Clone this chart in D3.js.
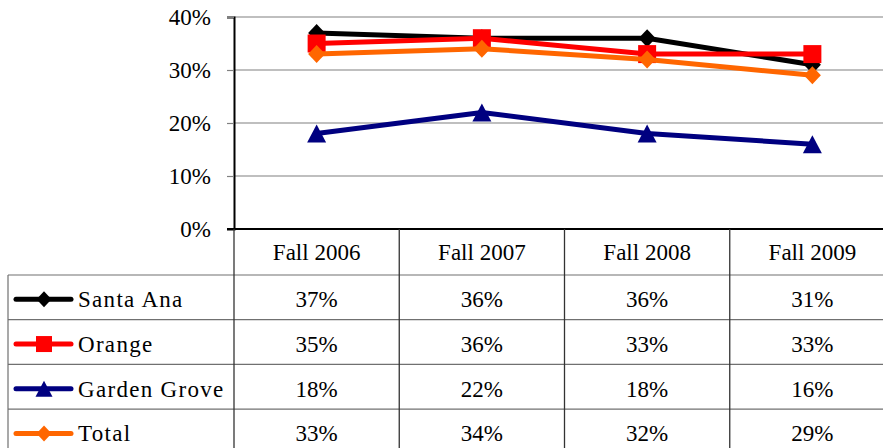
<!DOCTYPE html>
<html>
<head>
<meta charset="utf-8">
<title>Rates by district</title>
<script src="https://d3js.org/d3.v7.min.js"></script>
<style>
  body { margin: 0; background: #fff; }
  svg text { font-family: "Liberation Serif", "Tinos", "Times New Roman", "DejaVu Serif", serif !important; fill: #000; }
</style>
</head>
<body>
<div id="chart"></div>
<script>
// data
var terms = ["Fall 2006", "Fall 2007", "Fall 2008", "Fall 2009"];
var santaAna = [0.37, 0.36, 0.36, 0.31];
var orange = [0.35, 0.36, 0.33, 0.33];
var gardenGrove = [0.18, 0.22, 0.18, 0.16];
var total = [0.33, 0.34, 0.32, 0.29];
var yTicks = [0, 0.1, 0.2, 0.3, 0.4];

var series = [
  {name: "Santa Ana", values: santaAna, color: "#000000", marker: "diamond"},
  {name: "Orange", values: orange, color: "#ff0000", marker: "square"},
  {name: "Garden Grove", values: gardenGrove, color: "#000080", marker: "triangle"},
  {name: "Total", values: total, color: "#ff6600", marker: "diamond"}
];

var W = 883, H = 448;
var plotLeft = 234, plotRight = 895, plotTop = 17, plotBottom = 229;
var tableLeft = 8, headerBottom = 275, rowH = 44.7;

var svg = d3.select("#chart").append("svg")
  .attr("width", W).attr("height", H);

var x = d3.scaleBand().domain(terms).range([plotLeft, plotRight]);
var y = d3.scaleLinear().domain([0, 0.4]).range([plotBottom, plotTop]);
var fmt = d3.format(".0%");

// marker shapes
function markerPath(type, big) {
  var s = big ? 9 : 8;
  if (type === "diamond") return "M0," + (-s) + "L" + (s - 0.5) + ",0L0," + s + "L" + (-(s - 0.5)) + ",0Z";
  if (type === "square") return "M" + (-s) + "," + (-s) + "H" + s + "V" + s + "H" + (-s) + "Z";
  return "M0," + (-s) + "L" + (s + 0.5) + "," + s + "H" + (-(s + 0.5)) + "Z";
}

// gridlines
svg.append("g").selectAll("line")
  .data(yTicks.filter(function(d) { return d > 0; }))
  .join("line")
  .attr("x1", plotLeft).attr("x2", plotRight)
  .attr("y1", function(d) { return y(d); }).attr("y2", function(d) { return y(d); })
  .attr("stroke", "#808080").attr("stroke-width", 1.2);

// y axis
var yAxis = svg.append("g")
  .attr("transform", "translate(" + plotLeft + ",0)")
  .call(d3.axisLeft(y).tickValues(yTicks).tickFormat(fmt).tickSize(7).tickPadding(16));
yAxis.attr("font-family", null).attr("font-size", null);
yAxis.select(".domain").attr("stroke", "#000").attr("stroke-width", 2);
yAxis.selectAll(".tick line").attr("stroke", "#808080").attr("stroke-width", 1.2);
yAxis.selectAll(".tick text")
  .style("font-size", "23px").attr("fill", "#000");

// x axis line
svg.append("line")
  .attr("x1", plotLeft - 7).attr("x2", plotRight)
  .attr("y1", plotBottom).attr("y2", plotBottom)
  .attr("stroke", "#000").attr("stroke-width", 2.2);

// series lines and markers
var line = d3.line()
  .x(function(d, i) { return x(terms[i]) + x.bandwidth() / 2; })
  .y(function(d) { return y(d); });

series.forEach(function(s) {
  var g = svg.append("g");
  g.append("path")
    .attr("d", line(s.values))
    .attr("fill", "none")
    .attr("stroke", s.color)
    .attr("stroke-width", 5)
    .attr("stroke-linejoin", "round");
  g.selectAll("path.m")
    .data(s.values)
    .join("path")
    .attr("class", "m")
    .attr("transform", function(d, i) {
      return "translate(" + (x(terms[i]) + x.bandwidth() / 2) + "," + y(d) + ")";
    })
    .attr("d", markerPath(s.marker, true))
    .attr("fill", s.color);
});

// data table
var table = svg.append("g");
var rowTop = function(i) { return headerBottom + i * rowH; };

// horizontal lines
table.selectAll("line.h")
  .data(series.map(function(d, i) { return i; }))
  .join("line")
  .attr("class", "h")
  .attr("x1", tableLeft).attr("x2", plotRight)
  .attr("y1", function(i) { return rowTop(i); }).attr("y2", function(i) { return rowTop(i); })
  .attr("stroke", "#707070").attr("stroke-width", 1.2);

// vertical lines
table.append("line")
  .attr("x1", tableLeft).attr("x2", tableLeft)
  .attr("y1", headerBottom).attr("y2", H)
  .attr("stroke", "#707070").attr("stroke-width", 1.2);
table.selectAll("line.v")
  .data(terms)
  .join("line")
  .attr("class", "v")
  .attr("x1", function(d) { return x(d); }).attr("x2", function(d) { return x(d); })
  .attr("y1", plotBottom).attr("y2", H)
  .attr("stroke", "#333").attr("stroke-width", 1.3);

// header labels
table.selectAll("text.hd")
  .data(terms)
  .join("text")
  .attr("class", "hd")
  .attr("x", function(d) { return x(d) + x.bandwidth() / 2; })
  .attr("y", 260)
  .attr("text-anchor", "middle")
  .style("font-size", "23px")
  .text(function(d) { return d; });

// rows
series.forEach(function(s, r) {
  var cy = rowTop(r) + rowH / 2;
  var row = table.append("g");
  row.append("line")
    .attr("x1", 16).attr("x2", 71)
    .attr("y1", cy + 2).attr("y2", cy + 2)
    .attr("stroke", s.color).attr("stroke-width", 5)
    .attr("stroke-linecap", "round");
  row.append("path")
    .attr("transform", "translate(44," + (cy + 2) + ")")
    .attr("d", markerPath(s.marker, false))
    .attr("fill", s.color);
  row.append("text")
    .attr("x", 78).attr("y", cy + 10)
    .style("font-size", "23px")
    .style("letter-spacing", "1.3px")
    .text(s.name);
  row.selectAll("text.v")
    .data(s.values)
    .join("text")
    .attr("class", "v")
    .attr("x", function(d, i) { return x(terms[i]) + x.bandwidth() / 2; })
    .attr("y", cy + 10)
    .attr("text-anchor", "middle")
    .style("font-size", "23px")
    .text(function(d) { return fmt(d); });
});
</script>
</body>
</html>
